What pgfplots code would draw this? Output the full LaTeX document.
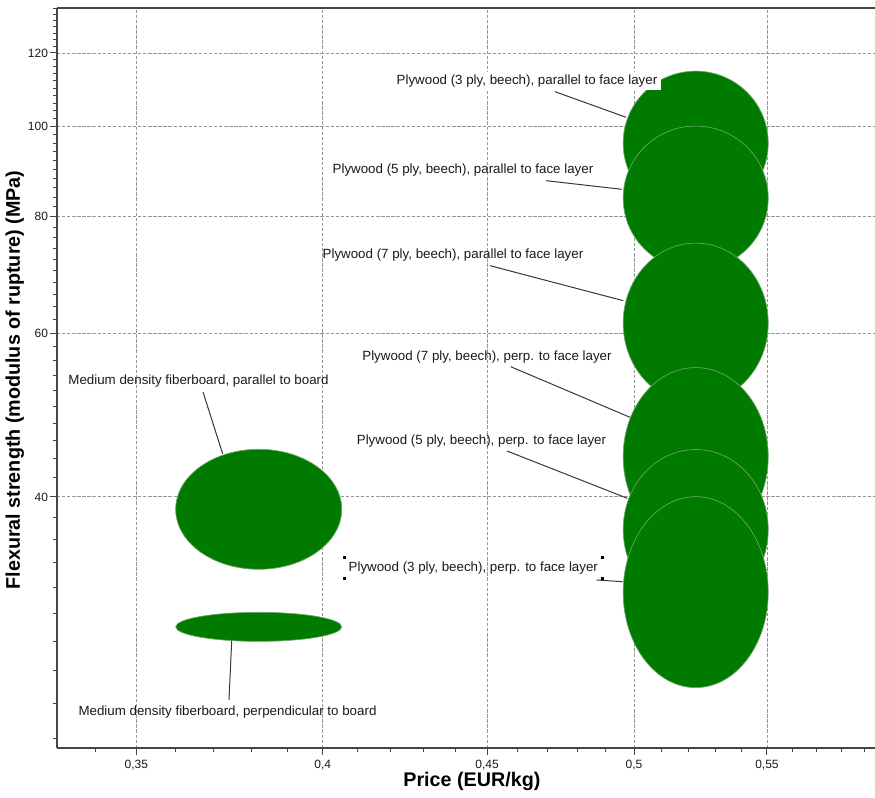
\documentclass[border=0pt]{standalone}
\usepackage{pgfplots}
\pgfplotsset{compat=1.18}
\usepackage{fontspec}
\setmainfont{Liberation Sans}
\definecolor{bub}{RGB}{0,123,0}
\definecolor{bubedge}{RGB}{110,165,110}
\definecolor{gridc}{RGB}{150,150,150}
\definecolor{axc}{RGB}{70,70,70}
\definecolor{txt}{RGB}{25,25,25}
\definecolor{leader}{RGB}{55,55,55}
\pgfplotsset{
  bubble/.style 2 args={only marks, mark=*, mark size=#2pt,
    mark options={fill=bub, draw=bubedge, line width=0.5pt, xscale=#1/#2}}
}
\begin{document}
\begin{tikzpicture}
\path[use as bounding box] (-42.75pt,-37.5pt) rectangle (613.5pt,561pt);
\begin{axis}[
  at={(0,0)}, anchor=south west,
  scale only axis, width=613.5pt, height=555pt,
  xmode=log, ymode=log,
  xmin=0.3306, xmax=0.5943, ymin=21.49, ymax=134.13,
  axis x line*=box, axis y line*=left,
  axis line style={-, axc, line width=1.2pt},
  tick pos=left, tick align=outside,
  major tick length=5.25pt, minor tick length=3pt,
  every tick/.style={axc, line width=0.75pt},
  xtick={0.35,0.4,0.45,0.5,0.55},
  xticklabels={{0,35},{0,4},{0,45},{0,5},{0,55}},
  minor xtick={0.34,0.36,0.37,0.38,0.39,0.41,0.42,0.43,0.44,0.46,0.47,0.48,0.49,0.51,0.52,0.53,0.54,0.56,0.57,0.58,0.59},
  ytick={40,60,80,100,120},
  yticklabels={40,60,80,100,120},
  minor ytick={22,24,26,28,30,32,34,36,38,42,44,46,48,50,52,54,56,58,62,64,66,68,70,72,74,76,78,82,84,86,88,90,92,94,96,98,102,104,106,108,110,112,114,116,118,122,124,126,128,130,132,134},
  xmajorgrids, ymajorgrids,
  major grid style={gridc, line width=0.6pt, dash pattern=on 2.5pt off 1.3pt},
  ticklabel style={font=\fontsize{9}{10}\selectfont, text=txt},
  yticklabel style={xshift=2pt},
  xlabel={Price (EUR/kg)},
  ylabel={Flexural strength (modulus of rupture) (MPa)},
  xlabel style={at={(axis description cs:0.5073,-0.0446)}, anchor=center, font=\bfseries\fontsize{14.8}{16}\selectfont},
  ylabel style={at={(axis description cs:-0.0515,0.4973)}, anchor=center, font=\bfseries\fontsize{14.8}{16}\selectfont},
  clip=false,
]
% Plywood, beech (drawn from top to bottom)
\addplot[bubble={54.4}{54.0}] coordinates {(0.5226,96.0)};  % 3 ply, parallel
\addplot[bubble={54.4}{54.0}] coordinates {(0.5226,83.8)};  % 5 ply, parallel
\addplot[bubble={54.4}{60.0}] coordinates {(0.5226,61.5)};  % 7 ply, parallel
\addplot[bubble={54.4}{66.75}] coordinates {(0.5226,44.2)}; % 7 ply, perp
\addplot[bubble={54.4}{60.0}] coordinates {(0.5226,36.9)};  % 5 ply, perp
\addplot[bubble={54.4}{71.6}] coordinates {(0.5226,31.6)};  % 3 ply, perp
% Medium density fiberboard
\addplot[bubble={62.25}{45.0}] coordinates {(0.3821,38.8)}; % parallel
\addplot[bubble={62.25}{10.9}] coordinates {(0.3821,29.0)}; % perpendicular
\end{axis}
\begin{scope}[shift={(-42.75pt,561pt)}, x=0.75pt, y=-0.75pt,
  every node/.style={font=\fontsize{10}{12}\selectfont, text=txt, inner sep=1.5pt}]
\draw[leader, line width=0.75pt] (555,91.7) -- (626,117.3);
\draw[leader, line width=0.75pt] (546,180.7) -- (621.7,189.3);
\draw[leader, line width=0.75pt] (490,265.7) -- (623.3,300.7);
\draw[leader, line width=0.75pt] (510.7,366.7) -- (630,417.3);
\draw[leader, line width=0.75pt] (507,451) -- (627.3,498.3);
\draw[leader, line width=0.75pt] (596.7,580) -- (622.7,581.7);
\draw[leader, line width=0.75pt] (203,392) -- (222.7,454);
\draw[leader, line width=0.75pt] (229,700) -- (231.7,640.7);
\node[fill=white, inner xsep=3pt, inner ysep=2pt] at (527,81) {Plywood (3 ply, beech), parallel to face layer};
\node at (463,170) {Plywood (5 ply, beech), parallel to face layer};
\node at (453,255) {Plywood (7 ply, beech), parallel to face layer};
\node at (487,356.7) {Plywood (7 ply, beech), perp. to face layer};
\node at (481.5,441) {Plywood (5 ply, beech), perp. to face layer};
\node[inner xsep=3pt, inner ysep=3pt] (l6) at (473.3,568) {Plywood (3 ply, beech), perp. to face layer};
\node at (198.5,381) {Medium density fiberboard, parallel to board};
\node at (227.5,712) {Medium density fiberboard, perpendicular to board};
\foreach \a in {north west, south west, north east, south east}
  \fill[black] ([shift={(-1.5,-1.5)}]l6.\a) rectangle ++(3,3);
\end{scope}
\end{tikzpicture}
\end{document}
